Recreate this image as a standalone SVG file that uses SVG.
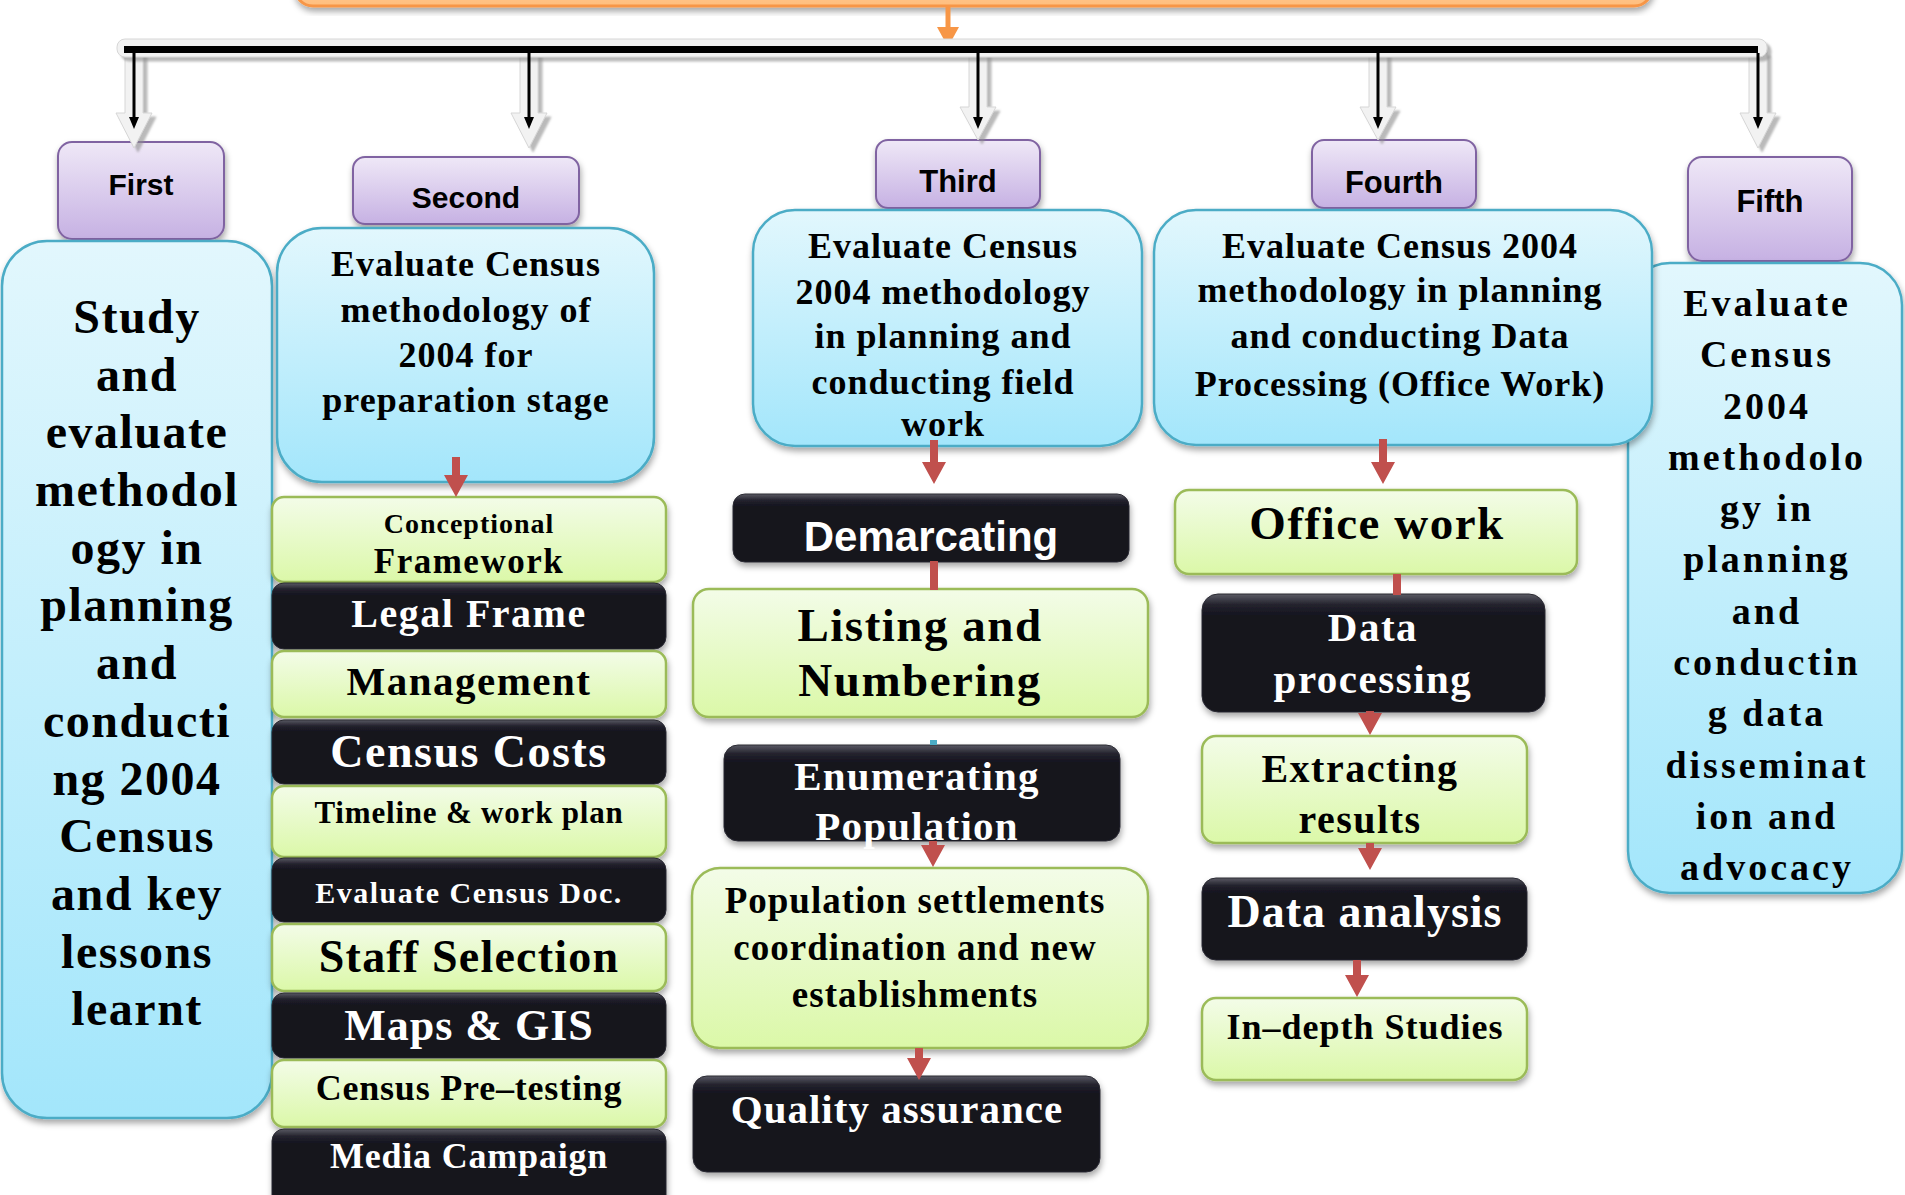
<svg xmlns="http://www.w3.org/2000/svg" width="1905" height="1195" viewBox="0 0 1905 1195">
<style>
.serif{font-family:"Liberation Serif","Times New Roman",serif;font-weight:bold;text-anchor:middle}
.sans{font-family:"Liberation Sans",Arial,sans-serif;font-weight:bold;text-anchor:middle}
.dk{fill:#000}
.wt{fill:#fff}
.cyan{fill:url(#gCyan);stroke:#4bacc6;stroke-width:2.5;filter:url(#sh)}
.green{fill:url(#gGreen);stroke:#9bbb59;stroke-width:2.5;filter:url(#sh)}
.black{fill:url(#gBlack);stroke:#2a2a33;stroke-width:1;filter:url(#sh)}
.purple{fill:url(#gPurple);stroke:#8064a2;stroke-width:2;filter:url(#sh)}
.red{fill:#c0504d}
.gray{fill:#f2f2f2;stroke:#d6d6d6;stroke-width:1;filter:url(#gsh)}
</style>
<defs>
<linearGradient id="gCyan" x1="0" y1="0" x2="0" y2="1"><stop offset="0" stop-color="#e2f7fd"/><stop offset="1" stop-color="#a3e6fb"/></linearGradient>
<linearGradient id="gGreen" x1="0" y1="0" x2="0" y2="1"><stop offset="0" stop-color="#f3fce8"/><stop offset="1" stop-color="#dbf8a8"/></linearGradient>
<linearGradient id="gPurple" x1="0" y1="0" x2="0" y2="1"><stop offset="0" stop-color="#efe8f7"/><stop offset="1" stop-color="#c6b1e3"/></linearGradient>
<linearGradient id="gBlack" x1="0" y1="0" x2="0" y2="1"><stop offset="0" stop-color="#5a5a64"/><stop offset="0.09" stop-color="#24232e"/><stop offset="0.18" stop-color="#15141f"/><stop offset="1" stop-color="#15141f"/></linearGradient>
<linearGradient id="gOrange" x1="0" y1="0" x2="0" y2="1"><stop offset="0" stop-color="#ffd9b3"/><stop offset="1" stop-color="#ffbe7d"/></linearGradient>
<filter id="sh" x="-10%" y="-10%" width="125%" height="130%"><feDropShadow dx="1" dy="4" stdDeviation="3" flood-color="#000" flood-opacity="0.35"/></filter>
<filter id="gsh" x="-30%" y="-30%" width="180%" height="180%"><feDropShadow dx="4" dy="4" stdDeviation="1" flood-color="#8c8c8c" flood-opacity="0.6"/></filter>
</defs>
<rect width="1905" height="1195" fill="#fff"/>

<g id="top-box"><rect x="295" y="-40" width="1357" height="46" rx="18" fill="url(#gOrange)" stroke="#f79646" stroke-width="3" filter="url(#sh)"/></g>

<g id="node-first">
<rect class="purple" x="58" y="142" width="166" height="97" rx="14"/>
<text class="sans dk" x="141" y="195" font-size="30">First</text>
<rect class="cyan" x="2" y="241" width="270" height="877" rx="45"/>
<text class="serif dk" font-size="48" letter-spacing="1.5">
<tspan x="137" y="333">Study</tspan><tspan x="137" y="391">and</tspan><tspan x="137" y="448">evaluate</tspan><tspan x="137" y="506">methodol</tspan><tspan x="137" y="564">ogy in</tspan><tspan x="137" y="621">planning</tspan><tspan x="137" y="679">and</tspan><tspan x="137" y="737">conducti</tspan><tspan x="137" y="795">ng 2004</tspan><tspan x="137" y="852">Census</tspan><tspan x="137" y="910">and key</tspan><tspan x="137" y="968">lessons</tspan><tspan x="137" y="1025">learnt</tspan>
</text>
</g>

<g id="node-second">
<rect class="purple" x="353" y="157" width="226" height="67" rx="12"/>
<text class="sans dk" x="466" y="208" font-size="30">Second</text>
<rect class="cyan" x="277" y="228" width="377" height="254" rx="45"/>
<text class="serif dk" font-size="36" letter-spacing="1">
<tspan x="466" y="276">Evaluate Census</tspan><tspan x="466" y="322">methodology of</tspan><tspan x="466" y="367">2004 for</tspan><tspan x="466" y="412">preparation stage</tspan>
</text>
</g>

<g id="node-conceptional"><rect class="green" x="272" y="497" width="394" height="85" rx="12"/>
<text class="serif dk" x="469" y="533" font-size="28" letter-spacing="1">Conceptional</text>
<text class="serif dk" x="469" y="573" font-size="35" letter-spacing="1.5">Framework</text></g>
<g id="node-legal"><rect class="black" x="272" y="583" width="394" height="66" rx="12"/>
<text class="serif wt" x="469" y="627" font-size="40" letter-spacing="1.5">Legal Frame</text></g>
<g id="node-management"><rect class="green" x="272" y="651" width="394" height="66" rx="12"/>
<text class="serif dk" x="469" y="695" font-size="41" letter-spacing="1.5">Management</text></g>
<g id="node-costs"><rect class="black" x="272" y="720" width="394" height="64" rx="12"/>
<text class="serif wt" x="469" y="767" font-size="46" letter-spacing="1.5">Census Costs</text></g>
<g id="node-timeline"><rect class="green" x="272" y="786" width="394" height="71" rx="12"/>
<text class="serif dk" x="469" y="823" font-size="31" letter-spacing="0.8">Timeline &amp; work plan</text></g>
<g id="node-evaldoc"><rect class="black" x="272" y="858" width="394" height="64" rx="12"/>
<text class="serif wt" x="469" y="903" font-size="30" letter-spacing="1.5">Evaluate Census Doc.</text></g>
<g id="node-staff"><rect class="green" x="272" y="924" width="394" height="67" rx="12"/>
<text class="serif dk" x="469" y="972" font-size="46" letter-spacing="1.2">Staff Selection</text></g>
<g id="node-maps"><rect class="black" x="272" y="993" width="394" height="65" rx="12"/>
<text class="serif wt" x="469" y="1040" font-size="44" letter-spacing="1">Maps &amp; GIS</text></g>
<g id="node-pretest"><rect class="green" x="272" y="1060" width="394" height="67" rx="12"/>
<text class="serif dk" x="469" y="1100" font-size="36" letter-spacing="0.8">Census Pre–testing</text></g>
<g id="node-media"><rect class="black" x="272" y="1129" width="394" height="80" rx="12"/>
<text class="serif wt" x="469" y="1168" font-size="36" letter-spacing="0.8">Media Campaign</text></g>

<g id="node-third">
<rect class="purple" x="876" y="140" width="164" height="68" rx="12"/>
<text class="sans dk" x="958" y="192" font-size="31">Third</text>
<rect class="cyan" x="753" y="210" width="389" height="236" rx="42"/>
<text class="serif dk" font-size="36" letter-spacing="1">
<tspan x="943" y="258">Evaluate Census</tspan><tspan x="943" y="304">2004 methodology</tspan><tspan x="943" y="348">in planning and</tspan><tspan x="943" y="394">conducting field</tspan><tspan x="943" y="436">work</tspan>
</text>
</g>
<g id="node-demarcating"><rect class="black" x="733" y="494" width="396" height="68" rx="12"/>
<text class="sans wt" x="931" y="551" font-size="42">Demarcating</text></g>
<g id="node-listing"><rect class="green" x="693" y="589" width="455" height="128" rx="16"/>
<text class="serif dk" font-size="47" letter-spacing="1.5"><tspan x="920" y="641">Listing and</tspan><tspan x="920" y="696">Numbering</tspan></text></g>
<g id="node-enumerating"><rect class="black" x="724" y="745" width="396" height="96" rx="14"/>
<text class="serif wt" font-size="41" letter-spacing="1.2"><tspan x="917" y="790">Enumerating</tspan><tspan x="917" y="840">Population</tspan></text></g>
<g id="node-settlements"><rect class="green" x="692" y="868" width="456" height="180" rx="28"/>
<text class="serif dk" font-size="37" letter-spacing="1"><tspan x="915" y="913">Population settlements</tspan><tspan x="915" y="960">coordination and new</tspan><tspan x="915" y="1007">establishments</tspan></text></g>
<g id="node-quality"><rect class="black" x="693" y="1076" width="407" height="96" rx="14"/>
<text class="serif wt" x="897" y="1123" font-size="41" letter-spacing="1">Quality assurance</text></g>

<g id="node-fifth">
<rect class="purple" x="1688" y="157" width="164" height="104" rx="14"/>
<text class="sans dk" x="1770" y="212" font-size="31">Fifth</text>
<rect class="cyan" x="1628" y="263" width="274" height="630" rx="42"/>
<text class="serif dk" font-size="38" letter-spacing="3">
<tspan x="1767" y="316">Evaluate</tspan><tspan x="1767" y="367">Census</tspan><tspan x="1767" y="419">2004</tspan><tspan x="1767" y="470">methodolo</tspan><tspan x="1767" y="521">gy in</tspan><tspan x="1767" y="572">planning</tspan><tspan x="1767" y="624">and</tspan><tspan x="1767" y="675">conductin</tspan><tspan x="1767" y="726">g data</tspan><tspan x="1767" y="778">disseminat</tspan><tspan x="1767" y="829">ion and</tspan><tspan x="1767" y="880">advocacy</tspan>
</text>
</g>

<g id="node-fourth">
<rect class="purple" x="1312" y="140" width="164" height="68" rx="12"/>
<text class="sans dk" x="1394" y="193" font-size="31">Fourth</text>
<rect class="cyan" x="1154" y="210" width="498" height="235" rx="42"/>
<text class="serif dk" font-size="36" letter-spacing="1">
<tspan x="1400" y="258">Evaluate Census 2004</tspan><tspan x="1400" y="302">methodology in planning</tspan><tspan x="1400" y="348">and conducting Data</tspan><tspan x="1400" y="396">Processing (Office Work)</tspan>
</text>
</g>
<g id="node-office"><rect class="green" x="1175" y="490" width="402" height="84" rx="14"/>
<text class="serif dk" x="1377" y="539" font-size="47" letter-spacing="1.5">Office work</text></g>
<g id="node-dataproc"><rect class="black" x="1202" y="594" width="343" height="118" rx="16"/>
<text class="serif wt" font-size="41" letter-spacing="1.5"><tspan x="1373" y="641">Data</tspan><tspan x="1373" y="693">processing</tspan></text></g>
<g id="node-extracting"><rect class="green" x="1202" y="736" width="325" height="107" rx="14"/>
<text class="serif dk" font-size="40" letter-spacing="1.5"><tspan x="1360" y="782">Extracting</tspan><tspan x="1360" y="833">results</tspan></text></g>
<g id="node-analysis"><rect class="black" x="1202" y="878" width="325" height="82" rx="14"/>
<text class="serif wt" x="1365" y="927" font-size="46" letter-spacing="1">Data analysis</text></g>
<g id="node-indepth"><rect class="green" x="1202" y="998" width="325" height="82" rx="14"/>
<text class="serif dk" x="1365" y="1039" font-size="36" letter-spacing="1">In–depth Studies</text></g>

<g id="connectors">
<line x1="948" y1="7" x2="948" y2="30" stroke="#f79646" stroke-width="5"/>
<path d="M937,27 L959,27 L948,47 Z" fill="#f79646"/>
<path class="gray" d="M125,52 H143 V113 H152 L134,148 L116,113 H125 Z"/>
<path class="gray" d="M520,52 H538 V113 H547 L529,148 L511,113 H520 Z"/>
<path class="gray" d="M969,52 H987 V107 H996 L978,140 L960,107 H969 Z"/>
<path class="gray" d="M1369,52 H1387 V107 H1396 L1378,140 L1360,107 H1369 Z"/>
<path class="gray" d="M1749,52 H1767 V113 H1776 L1758,148 L1740,113 H1749 Z"/>
<rect class="gray" x="117" y="39" width="1650" height="18" rx="8"/>
<line x1="124" y1="49.5" x2="1758" y2="49.5" stroke="#000" stroke-width="7"/>
<g stroke="#000" stroke-width="3">
<line x1="134" y1="53" x2="134" y2="120"/><line x1="529" y1="53" x2="529" y2="120"/><line x1="978" y1="53" x2="978" y2="120"/><line x1="1378" y1="53" x2="1378" y2="120"/><line x1="1758" y1="53" x2="1758" y2="120"/>
</g>
<g fill="#000">
<path d="M129,117 L139,117 L134,129 Z"/><path d="M524,117 L534,117 L529,129 Z"/><path d="M973,117 L983,117 L978,129 Z"/><path d="M1373,117 L1383,117 L1378,129 Z"/><path d="M1753,117 L1763,117 L1758,129 Z"/>
</g>
<path class="red" d="M452,457 H460 V475 H468 L456,497 L444,475 H452 Z"/>
<path class="red" d="M930,440 H938 V462 H946 L934,484 L922,462 H930 Z"/>
<rect class="red" x="930" y="561" width="8" height="29"/>
<rect x="930" y="740" width="7" height="5" fill="#4bacc6"/>
<path class="red" d="M929,841 H937 V845 H945 L933,867 L921,845 H929 Z"/>
<path class="red" d="M915,1048 H923 V1058 H931 L919,1080 L907,1058 H915 Z"/>
<path class="red" d="M1379,439 H1387 V462 H1395 L1383,484 L1371,462 H1379 Z"/>
<rect class="red" x="1393" y="574" width="8" height="21"/>
<path class="red" d="M1366,711 H1374 V713 H1382 L1370,735 L1358,713 H1366 Z"/>
<path class="red" d="M1366,843 H1374 V848 H1382 L1370,870 L1358,848 H1366 Z"/>
<path class="red" d="M1353,960 H1361 V975 H1369 L1357,997 L1345,975 H1353 Z"/>
</g>
</svg>
